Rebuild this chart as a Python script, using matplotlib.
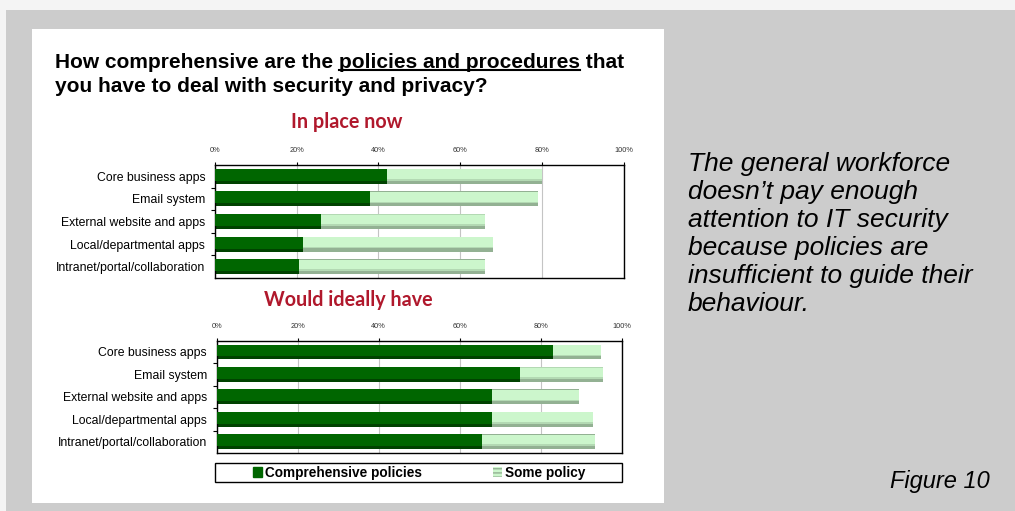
import matplotlib
matplotlib.use('Agg')
import numpy as np
import matplotlib.pyplot as plt
from matplotlib.patches import Rectangle, Patch
from matplotlib.lines import Line2D

categories = ['Core business apps', 'Email system', 'External website and apps',
              'Local/departmental apps', 'Intranet/portal/collaboration']
now_comprehensive = [42, 38, 26, 21.5, 20.5]
now_some = [38, 41, 40, 46.5, 45.5]
ideal_comprehensive = [83, 75, 68, 68, 65.5]
ideal_some = [12, 20.5, 21.5, 25, 28]
x_ticks = [0, 20, 40, 60, 80, 100]
x_ticklabels = ['0%', '20%', '40%', '60%', '80%', '100%']
series_names = ['Comprehensive policies', 'Some policy']
side_text = ['The general workforce', 'doesn\u2019t pay enough', 'attention to IT security',
             'because policies are', 'insufficient to guide their', 'behaviour.']

W, H = 1015, 511
DARK, DARK_SHADE = '#006600', '#004200'
LIGHT, LIGHT_SHADE = '#ccf6cc', '#93b193'
RED = '#b0182c'
FONT = 'Liberation Sans'


def fx(px):
    return px / W


def fy(py):
    return 1 - py / H


def draw_panel(ax, comp, some):
    y = np.arange(len(categories))
    h = 0.66
    comp = np.array(comp)
    some = np.array(some)
    # shaded base + lighter upper part gives the bevelled excel look
    ax.barh(y, comp, height=h, color=DARK_SHADE, zorder=2)
    ax.barh(y - h * 0.1, comp, height=h * 0.8, color=DARK, zorder=3)
    ax.barh(y, some, left=comp, height=h, color=LIGHT_SHADE, zorder=2)
    ax.barh(y - h * 0.09, some, left=comp, height=h * 0.76, color='#b3d9b3', zorder=3)
    ax.barh(y - h * 0.14, some, left=comp, height=h * 0.64, color=LIGHT, zorder=4)
    ax.set_xlim(0, 100)
    ax.set_ylim(len(categories) - 0.5, -0.5)
    ax.xaxis.tick_top()
    ax.set_xticks(x_ticks)
    ax.set_xticklabels(x_ticklabels, fontsize=5.3, color='#333333', family=FONT)
    ax.tick_params(axis='x', length=2, pad=6, width=0.8)
    ax.set_yticks(y)
    ax.set_yticklabels(categories, fontsize=8.8, family=FONT)
    ax.tick_params(axis='y', which='major', length=0, pad=7)
    ax.set_yticks(y[:-1] + 0.5, minor=True)
    ax.tick_params(axis='y', which='minor', length=3, width=0.8)
    ax.grid(axis='x', color='#c4c4c4', lw=0.8, zorder=0)
    ax.set_axisbelow(True)
    for s in ax.spines.values():
        s.set_linewidth(1)
        s.set_color('black')


fig = plt.figure(figsize=(W / 100, H / 100), dpi=100)
fig.patch.set_facecolor('#f4f4f4')
fig.add_artist(Rectangle((fx(6), fy(H)), fx(W - 6), (H - 10) / H, transform=fig.transFigure,
                         facecolor='#cccccc', edgecolor='none', zorder=-3))
fig.add_artist(Rectangle((fx(32), fy(503)), fx(664 - 32), (503 - 29) / H, transform=fig.transFigure,
                         facecolor='white', edgecolor='none', zorder=-2))

ax1 = fig.add_axes([fx(215), fy(278), fx(623.5 - 215), (278 - 165) / H])
draw_panel(ax1, now_comprehensive, now_some)
ax2 = fig.add_axes([fx(216.7), fy(453), fx(621.7 - 216.7), (453 - 340.7) / H])
draw_panel(ax2, ideal_comprehensive, ideal_some)

fig.text(fx(347), fy(122), 'In place now', color=RED, fontsize=14.2, fontweight='bold',
         family='Lato', ha='center', va='center')
fig.text(fx(348), fy(300), 'Would ideally have', color=RED, fontsize=14.2, fontweight='bold',
         family='Lato', ha='center', va='center')

# title, with underlined phrase
r = fig.canvas.get_renderer()
tkw = dict(fontsize=15, fontweight='bold', family=FONT, va='baseline')
fig.text(fx(55), fy(68), 'How comprehensive are the policies and procedures that', **tkw)
fig.text(fx(55), fy(92), 'you have to deal with security and privacy?', **tkw)


def text_w(s):
    t = fig.text(0, 0, s, **tkw)
    w = t.get_window_extent(r).width
    t.remove()
    return w


space = text_w('a a') - text_w('aa')
u_start = 55 + text_w('How comprehensive are the') + space
u_end = 55 + text_w('How comprehensive are the policies and procedures')
fig.add_artist(Line2D([fx(u_start), fx(u_end)], [fy(70.5), fy(70.5)], color='black', lw=1.5,
                      transform=fig.transFigure))

for i, s in enumerate(side_text):
    fig.text(fx(688), fy(171 + 28 * i), s, fontsize=19, style='italic', family=FONT, va='baseline')
fig.text(fx(890), fy(488), 'Figure 10', fontsize=17, style='italic', family=FONT, va='baseline')

handles = [Patch(facecolor=DARK, edgecolor=DARK),
           Patch(facecolor=LIGHT, edgecolor=LIGHT_SHADE, hatch='----', lw=0)]
fig.legend(handles, series_names, loc='center', bbox_to_anchor=(fx(419), fy(472.5)), ncol=2,
           frameon=False, prop=dict(family=FONT, weight='bold', size=9.8), handlelength=0.7,
           handleheight=0.7, handletextpad=0.2, columnspacing=5.2, borderpad=0)
fig.add_artist(Rectangle((fx(215), fy(482)), fx(622 - 215), 19 / H, transform=fig.transFigure,
                         facecolor='none', edgecolor='black', lw=1))

fig.savefig('out.png', dpi=100)
